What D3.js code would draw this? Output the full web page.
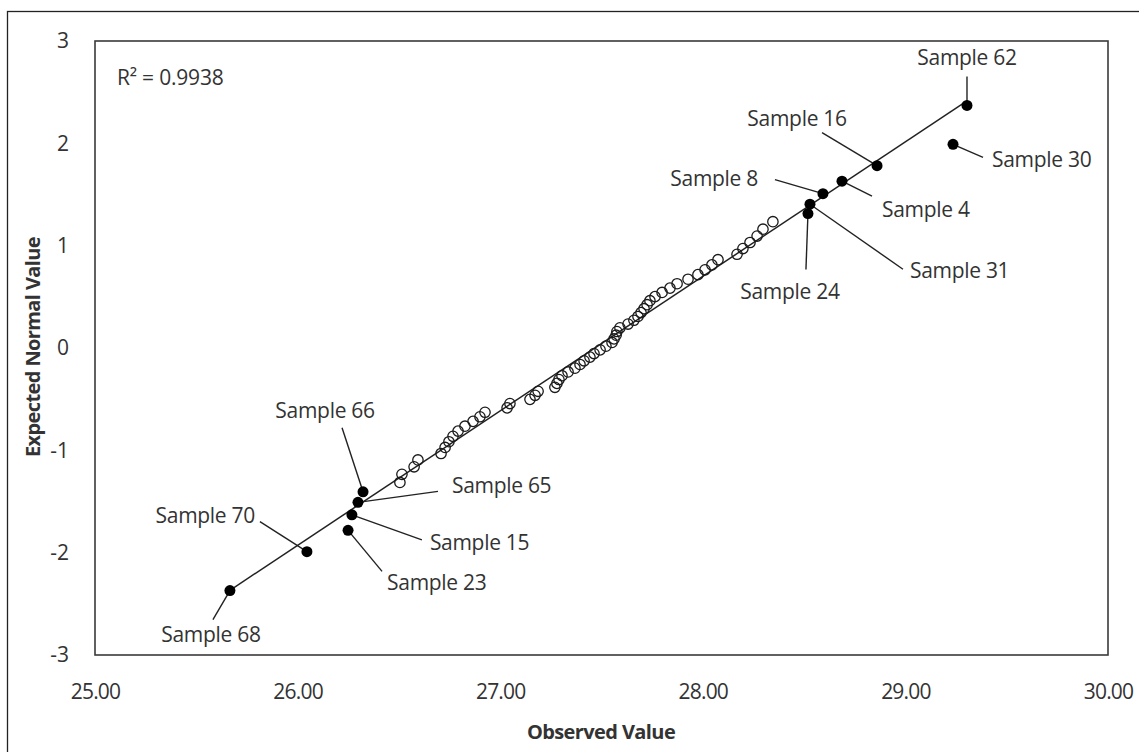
<!DOCTYPE html>
<html>
<head>
<meta charset="utf-8">
<script src="https://cdn.jsdelivr.net/npm/d3@7"></script>
<style>
  html, body { margin: 0; padding: 0; background: #fff; }
  svg { display: block; font-family: "Open Sans", "DejaVu Sans", sans-serif; }
</style>
</head>
<body>
<svg id="chart" width="1139" height="752"></svg>
<script>
// Normal probability plot: observed value vs expected normal score.

// Unlabelled samples (open circles)
const observedOpen = [
  26.505, 26.515, 26.575, 26.594, 26.708, 26.728, 26.747, 26.767, 26.792, 26.826,
  26.866, 26.900, 26.925, 27.034, 27.048, 27.147, 27.172, 27.187, 27.270, 27.280,
  27.290, 27.305, 27.335, 27.369, 27.394, 27.414, 27.443, 27.463, 27.493, 27.522,
  27.552, 27.562, 27.572, 27.576, 27.591, 27.631, 27.660, 27.680, 27.695, 27.710,
  27.725, 27.739, 27.764, 27.799, 27.838, 27.873, 27.927, 27.976, 28.011, 28.045,
  28.075, 28.169, 28.198, 28.233, 28.268, 28.297, 28.346
];
const expectedOpen = [
  -1.314, -1.234, -1.161, -1.094, -1.031, -0.972, -0.916, -0.863, -0.812, -0.764,
  -0.717, -0.672, -0.628, -0.585, -0.543, -0.502, -0.462, -0.423, -0.384, -0.346,
  -0.308, -0.271, -0.234, -0.197, -0.161, -0.125, -0.089, -0.054, -0.018, 0.018,
  0.054, 0.089, 0.125, 0.161, 0.197, 0.234, 0.271, 0.308, 0.346, 0.384,
  0.423, 0.462, 0.502, 0.543, 0.585, 0.628, 0.672, 0.717, 0.764, 0.812,
  0.863, 0.916, 0.972, 1.031, 1.094, 1.161, 1.234
];

// Labelled samples (filled dots)
const sampleNames = ["Sample 68", "Sample 70", "Sample 23", "Sample 15", "Sample 65", "Sample 66",
                     "Sample 24", "Sample 31", "Sample 8", "Sample 4", "Sample 16", "Sample 30", "Sample 62"];
const observedNamed = [25.666, 26.046, 26.249, 26.268, 26.298, 26.323,
                       28.519, 28.529, 28.593, 28.687, 28.860, 29.235, 29.304];
const expectedNamed = [-2.370, -1.990, -1.782, -1.630, -1.508, -1.405,
                       1.314, 1.405, 1.508, 1.630, 1.782, 1.990, 2.370];

// Axis ticks
const xTicks = [25, 26, 27, 28, 29, 30];
const yTicks = [-3, -2, -1, 0, 1, 2, 3];
const rSquaredText = "R² = 0.9938";

// Callout layout: leader end (lx, ly) and text anchor (tx, ty) relative to the dot, in px
const callouts = {
  "Sample 68": { lx: -17, ly: 29,  tx: -19, ty: 51,  anchor: "middle" },
  "Sample 70": { lx: -47, ly: -30, tx: -52, ty: -29, anchor: "end" },
  "Sample 23": { lx: 34,  ly: 41,  tx: 39,  ty: 60,  anchor: "start" },
  "Sample 15": { lx: 70,  ly: 25,  tx: 78,  ty: 35,  anchor: "start" },
  "Sample 65": { lx: 80,  ly: -11, tx: 94,  ty: -9,  anchor: "start" },
  "Sample 66": { lx: -21, ly: -64, tx: -38, ty: -74, anchor: "middle" },
  "Sample 24": { lx: -2,  ly: 56,  tx: -18, ty: 85,  anchor: "middle" },
  "Sample 31": { lx: 93,  ly: 65,  tx: 100, ty: 74,  anchor: "start" },
  "Sample 8":  { lx: -48, ly: -14, tx: -65, ty: -8,  anchor: "end" },
  "Sample 4":  { lx: 30,  ly: 15,  tx: 40,  ty: 36,  anchor: "start" },
  "Sample 16": { lx: -55, ly: -33, tx: -80, ty: -40, anchor: "middle" },
  "Sample 30": { lx: 30,  ly: 13,  tx: 39,  ty: 23,  anchor: "start" },
  "Sample 62": { lx: 0,   ly: -29, tx: 0,   ty: -40, anchor: "middle" }
};

const svg = d3.select("#chart");
const plot = { left: 95, right: 1108, top: 41, bottom: 655 };

const x = d3.scaleLinear().domain([25, 30]).range([plot.left, plot.right]);
const y = d3.scaleLinear().domain([-3, 3]).range([plot.bottom, plot.top]);

// Outer chart border
svg.append("rect")
  .attr("x", 7.5).attr("y", 11.5)
  .attr("width", 1140).attr("height", 745)
  .attr("fill", "none").attr("stroke", "#222").attr("stroke-width", 1.3);

// Plot area frame
svg.append("rect")
  .attr("x", plot.left).attr("y", plot.top)
  .attr("width", plot.right - plot.left).attr("height", plot.bottom - plot.top)
  .attr("fill", "none").attr("stroke", "#3a3a3a").attr("stroke-width", 1.6);

// Axes (labels only, no tick marks)
const xAxis = d3.axisBottom(x).tickValues(xTicks).tickFormat(d3.format(".2f"))
  .tickSize(0).tickPadding(29);
const gx = svg.append("g").attr("transform", `translate(0,${plot.bottom})`).call(xAxis);
gx.select(".domain").remove();
gx.selectAll("text").attr("font-size", 21).attr("fill", "#333")
  .attr("font-family", "'Open Sans', sans-serif").attr("letter-spacing", -0.8);

// Plain hyphen for negatives, as in spreadsheet output
const yAxis = d3.axisLeft(y).tickValues(yTicks).tickFormat(d => String(d))
  .tickSize(0).tickPadding(26);
const gy = svg.append("g").attr("transform", `translate(${plot.left},0)`).call(yAxis);
gy.select(".domain").remove();
gy.selectAll("text").attr("font-size", 21).attr("fill", "#333")
  .attr("font-family", "'Open Sans', sans-serif");

// Axis titles
svg.append("text")
  .attr("x", 601).attr("y", 739)
  .attr("text-anchor", "middle")
  .attr("font-size", 20).attr("font-weight", "bold").attr("fill", "#333")
  .attr("letter-spacing", -0.6)
  .text("Observed Value");

svg.append("text")
  .attr("transform", "translate(40,347) rotate(-90)")
  .attr("text-anchor", "middle")
  .attr("font-size", 20).attr("font-weight", "bold").attr("fill", "#333")
  .attr("letter-spacing", -0.6)
  .text("Expected Normal Value");

// Linear trendline fitted to all samples, spanning the observed range
const allX = observedOpen.concat(observedNamed);
const allY = expectedOpen.concat(expectedNamed);
const mx = d3.mean(allX), my = d3.mean(allY);
const slope = d3.sum(allX, (v, i) => (v - mx) * (allY[i] - my)) / d3.sum(allX, v => (v - mx) ** 2);
const intercept = my - slope * mx;
const [xMin, xMax] = d3.extent(allX);
svg.append("line")
  .attr("x1", x(xMin)).attr("y1", y(intercept + slope * xMin))
  .attr("x2", x(xMax)).attr("y2", y(intercept + slope * xMax))
  .attr("stroke", "#222").attr("stroke-width", 1.5);

// Open circles
svg.append("g").selectAll("circle")
  .data(observedOpen.map((v, i) => [v, expectedOpen[i]]))
  .join("circle")
  .attr("cx", d => x(d[0])).attr("cy", d => y(d[1]))
  .attr("r", 5.2)
  .attr("fill", "none").attr("stroke", "#1a1a1a").attr("stroke-width", 1.3);

// Labelled samples: leader lines, dots, names
const named = sampleNames.map((n, i) => ({ name: n, ox: observedNamed[i], ey: expectedNamed[i] }));

const gLead = svg.append("g");
named.forEach(d => {
  const c = callouts[d.name];
  const px = x(d.ox), py = y(d.ey);
  gLead.append("line")
    .attr("x1", px).attr("y1", py)
    .attr("x2", px + c.lx).attr("y2", py + c.ly)
    .attr("stroke", "#222").attr("stroke-width", 1.4);
});

svg.append("g").selectAll("circle")
  .data(named)
  .join("circle")
  .attr("cx", d => x(d.ox)).attr("cy", d => y(d.ey))
  .attr("r", 5.5)
  .attr("fill", "#000");

svg.append("g").selectAll("text")
  .data(named)
  .join("text")
  .attr("x", d => x(d.ox) + callouts[d.name].tx)
  .attr("y", d => y(d.ey) + callouts[d.name].ty)
  .attr("text-anchor", d => callouts[d.name].anchor)
  .attr("font-size", 21).attr("fill", "#333")
  .attr("letter-spacing", -0.3)
  .text(d => d.name);

// Goodness-of-fit note
svg.append("text")
  .attr("x", 117).attr("y", 85)
  .attr("font-size", 21).attr("fill", "#333")
  .attr("letter-spacing", -0.2)
  .text(rSquaredText);
</script>
</body>
</html>
